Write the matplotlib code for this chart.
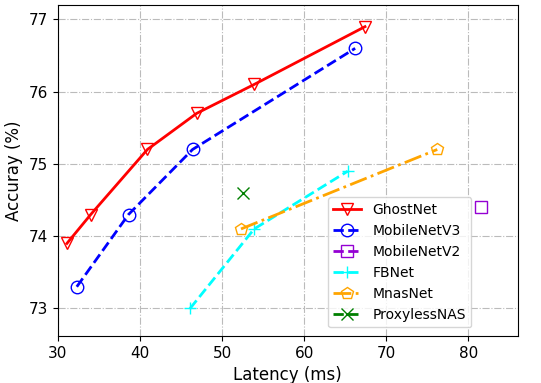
import numpy as np
import matplotlib.pyplot as plt

# latency (ms) / top-1 accuracy (%)
ghost_lat = [31.1, 34.0, 40.9, 46.9, 53.9, 67.4]
ghost_acc = [73.9, 74.3, 75.2, 75.7, 76.1, 76.9]
mbv3_lat = [32.3, 38.6, 46.4, 66.2]
mbv3_acc = [73.3, 74.3, 75.2, 76.6]
mbv2_lat = [81.5]
mbv2_acc = [74.4]
fbnet_lat = [46.1, 53.9, 65.3]
fbnet_acc = [73.0, 74.1, 74.9]
mnas_lat = [52.3, 76.2]
mnas_acc = [74.1, 75.2]
proxyless_lat = [52.6]
proxyless_acc = [74.6]


def main():
    plt.close('all')
    fig, ax = plt.subplots(figsize=(5.41, 3.83), dpi=100)
    kw = dict(linewidth=2, markersize=9, markerfacecolor='none', markeredgewidth=1)
    ax.plot(ghost_lat, ghost_acc, '-', marker='v', color='red', markeredgecolor='red', label='GhostNet', **kw)
    ax.plot(mbv3_lat, mbv3_acc, '--', marker='o', color='blue', markeredgecolor='blue', label='MobileNetV3', **kw)
    ax.plot(mbv2_lat, mbv2_acc, '--', marker='s', color='darkviolet', markeredgecolor='darkviolet', label='MobileNetV2', **kw)
    ax.plot(fbnet_lat, fbnet_acc, '--', marker='+', color='cyan', markeredgecolor='cyan', label='FBNet', **kw)
    ax.plot(mnas_lat, mnas_acc, '-.', marker='p', color='orange', markeredgecolor='orange', label='MnasNet', **kw)
    ax.plot(proxyless_lat, proxyless_acc, '--', marker='x', color='green', markeredgecolor='green', label='ProxylessNAS', **kw)

    ax.set_xlim(30, 86)
    ax.set_ylim(72.62, 77.2)
    ax.set_xticks([30, 40, 50, 60, 70, 80])
    ax.set_yticks([73, 74, 75, 76, 77])
    ax.tick_params(labelsize=11)
    ax.grid(True, linestyle='-.', color='#bbbbbb')
    ax.set_xlabel('Latency (ms)', fontsize=12)
    ax.set_ylabel('Accuray (%)', fontsize=12)
    ax.legend(loc='lower left', bbox_to_anchor=(0.572, 0.005), fontsize=10)
    fig.subplots_adjust(left=0.107, right=0.957, top=0.987, bottom=0.123)
    fig.savefig('out.png')


main()
